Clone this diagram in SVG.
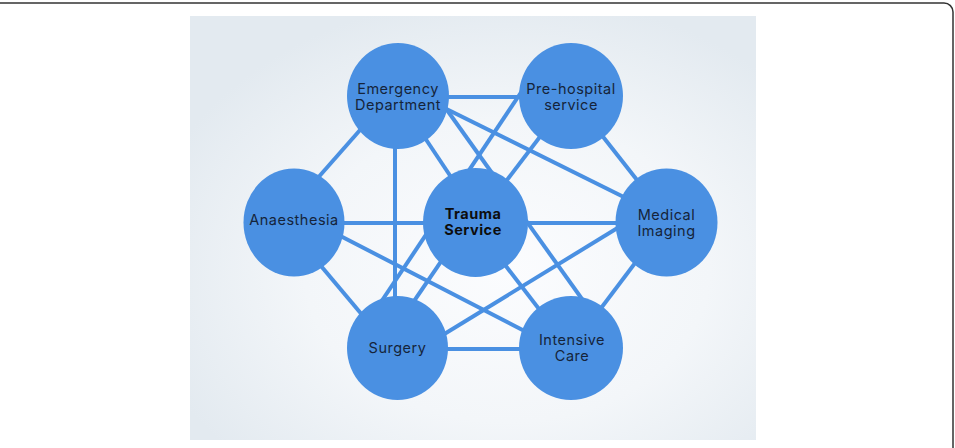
<svg xmlns="http://www.w3.org/2000/svg" width="955" height="448" viewBox="0 0 955 448">
  <defs>
    <radialGradient id="bg" cx="0.56" cy="0.6" r="0.65">
      <stop offset="0" stop-color="#fbfcfe"/>
      <stop offset="0.55" stop-color="#f3f6f9"/>
      <stop offset="1" stop-color="#e3eaf0"/>
    </radialGradient>
    <style>
      .node { fill: #4a90e2; }
      .edge { stroke: #4a90e2; stroke-width: 4; fill: none; stroke-linecap: butt; }
      .lbl { font-family: Inter, "Liberation Sans", sans-serif; font-size: 14.5px; fill: #15243a; text-anchor: middle; letter-spacing: 0.5px; }
      .bold { font-weight: 700; fill: #0d0d0d; font-size: 14.5px; letter-spacing: 0.5px; }
    </style>
  </defs>
  <rect x="-10" y="3" width="963" height="470" rx="9" fill="#ffffff" stroke="#333333" stroke-width="1.5"/>
  <rect x="190" y="16" width="566" height="424" fill="url(#bg)"/>

  <g id="connectors">
    <line class="edge" x1="398" y1="97" x2="571" y2="97"/>
    <line class="edge" x1="390" y1="96" x2="279" y2="222"/>
    <line class="edge" x1="395" y1="96" x2="395" y2="348"/>
    <line class="edge" x1="397" y1="96" x2="481" y2="222"/>
    <line class="edge" x1="398" y1="85" x2="666" y2="218"/>
    <line class="edge" x1="437" y1="96" x2="612" y2="341"/>
    <line class="edge" x1="571" y1="96" x2="475" y2="222"/>
    <line class="edge" x1="526" y1="85" x2="365" y2="326"/>
    <line class="edge" x1="571" y1="96" x2="670" y2="222"/>
    <line class="edge" x1="294" y1="223" x2="666" y2="223"/>
    <line class="edge" x1="294" y1="212" x2="571" y2="355"/>
    <line class="edge" x1="284" y1="222" x2="390" y2="348"/>
    <line class="edge" x1="468" y1="222" x2="382" y2="348"/>
    <line class="edge" x1="472" y1="222" x2="569" y2="348"/>
    <line class="edge" x1="410" y1="355" x2="660" y2="202"/>
    <line class="edge" x1="666" y1="222" x2="571" y2="348"/>
    <line class="edge" x1="397" y1="349" x2="571" y2="349"/>
  </g>

  <g id="emergency-department">
    <ellipse class="node" cx="398" cy="96" rx="51" ry="53"/>
    <text class="lbl" x="398" y="94">Emergency</text>
    <text class="lbl" x="398" y="110">Department</text>
  </g>
  <g id="pre-hospital-service">
    <ellipse class="node" cx="571" cy="96" rx="52" ry="53"/>
    <text class="lbl" x="571" y="94">Pre-hospital</text>
    <text class="lbl" x="571" y="110">service</text>
  </g>
  <g id="anaesthesia">
    <ellipse class="node" cx="294" cy="222.5" rx="50.5" ry="54"/>
    <text class="lbl" x="294" y="225">Anaesthesia</text>
  </g>
  <g id="trauma-service">
    <ellipse class="node" cx="475.5" cy="222.5" rx="52.5" ry="54.5"/>
    <text class="lbl bold" x="473" y="219">Trauma</text>
    <text class="lbl bold" x="473" y="235">Service</text>
  </g>
  <g id="medical-imaging">
    <ellipse class="node" cx="666.5" cy="222.5" rx="51" ry="54"/>
    <text class="lbl" x="666.5" y="219.5">Medical</text>
    <text class="lbl" x="666.5" y="235.5">Imaging</text>
  </g>
  <g id="surgery">
    <ellipse class="node" cx="397.5" cy="348" rx="50.5" ry="52"/>
    <text class="lbl" x="397.5" y="352.5">Surgery</text>
  </g>
  <g id="intensive-care">
    <ellipse class="node" cx="571" cy="348" rx="52" ry="52"/>
    <text class="lbl" x="572" y="344.5">Intensive</text>
    <text class="lbl" x="572" y="360.5">Care</text>
  </g>
</svg>
